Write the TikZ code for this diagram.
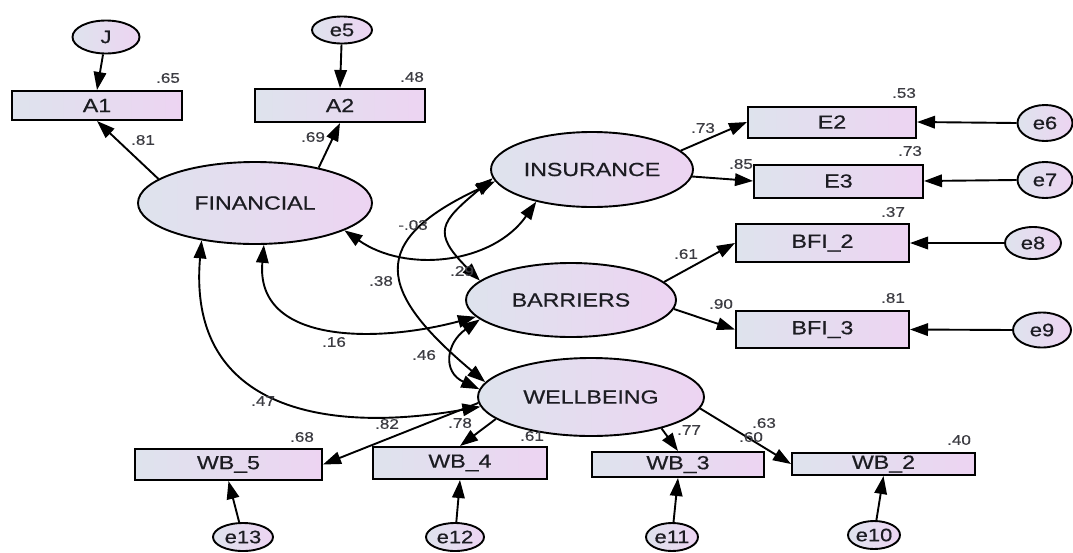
\documentclass[tikz,border=0pt]{standalone}
\usepackage{fontspec}
\setmainfont{Liberation Sans}[FakeStretch=1.22,FakeBold=0.5]
\usetikzlibrary{arrows.meta,shapes.geometric}
\definecolor{fillL}{RGB}{222,227,237}
\definecolor{fillR}{RGB}{237,212,242}
\definecolor{inkT}{RGB}{28,28,34}
\definecolor{inkN}{RGB}{60,60,66}

\begin{document}
\begin{tikzpicture}[x=1pt,y=-1pt,
  latent/.style={ellipse, draw, line width=1.9pt, left color=fillL, right color=fillR,
    inner sep=0pt, text=inkT, font=\fontsize{19}{21}\selectfont},
  obs/.style={rectangle, draw, line width=2pt, left color=fillL, right color=fillR,
    inner sep=0pt, text=inkT, font=\fontsize{19}{21}\selectfont},
  err/.style={ellipse, draw, line width=1.9pt, left color=fillL, right color=fillR,
    inner sep=0pt, text=inkT, font=\fontsize{18}{20}\selectfont},
  num/.style={inner sep=0pt, text=inkN, font=\fontsize{14}{16}\selectfont},
  tip/.tip={Triangle[length=18pt,width=12.5pt]},
  arr/.style={-tip, line width=1.9pt},
  cov/.style={tip-tip, line width=1.9pt}]

\useasboundingbox (0,0) rectangle (1073,552);

% latent variables
\node[latent, minimum width=234pt, minimum height=82pt] (FIN) at (255,203) {FINANCIAL};
\node[latent, minimum width=202pt, minimum height=75pt] (INS) at (592,169.5) {INSURANCE};
\node[latent, minimum width=210pt, minimum height=74pt] (BAR) at (571,300) {BARRIERS};
\node[latent, minimum width=226pt, minimum height=78pt] (WB) at (591,397) {WELLBEING};

% indicators
\node[obs, minimum width=170pt, minimum height=29pt] (A1) at (97,105.5) {A1};
\node[obs, minimum width=170pt, minimum height=33pt] (A2) at (340,105.5) {A2};
\node[obs, minimum width=168pt, minimum height=31pt] (E2) at (832,122) {E2};
\node[obs, minimum width=169pt, minimum height=33pt] (E3) at (838.5,181) {E3};
\node[obs, minimum width=173pt, minimum height=38pt] (BFI2) at (822.5,243) {BFI\_2};
\node[obs, minimum width=173pt, minimum height=37pt] (BFI3) at (822.5,329.5) {BFI\_3};
\node[obs, minimum width=187pt, minimum height=31pt] (WB5) at (228.5,464.5) {WB\_5};
\node[obs, minimum width=174pt, minimum height=32pt] (WB4) at (460,463) {WB\_4};
\node[obs, minimum width=172pt, minimum height=25pt] (WB3) at (678,464.5) {WB\_3};
\node[obs, minimum width=183pt, minimum height=22pt] (WB2) at (883.5,464) {WB\_2};

% error terms
\node[err, minimum width=67pt, minimum height=33pt] (J) at (106,37) {J};
\node[err, minimum width=60pt, minimum height=27pt] (e5) at (342,30) {e5};
\node[err, minimum width=55pt, minimum height=36pt] (e6) at (1045,123) {e6};
\node[err, minimum width=55pt, minimum height=36pt] (e7) at (1045,180) {e7};
\node[err, minimum width=56pt, minimum height=32pt] (e8) at (1033,243) {e8};
\node[err, minimum width=58pt, minimum height=35pt] (e9) at (1042,330) {e9};
\node[err, minimum width=60pt, minimum height=28pt] (e13) at (243,537) {e13};
\node[err, minimum width=58pt, minimum height=28pt] (e12) at (455,537) {e12};
\node[err, minimum width=52pt, minimum height=28pt] (e11) at (672,537) {e11};
\node[err, minimum width=52pt, minimum height=28pt] (e10) at (874,535) {e10};

% error paths
\draw[arr] (J) -- (A1.north);
\draw[arr] (e5) -- (A2.north);
\draw[arr] (e6.west) -- (E2.east);
\draw[arr] (e7.west) -- (E3.east);
\draw[arr] (e8.west) -- (BFI2.east);
\draw[arr] (e9.west) -- (BFI3.east);
\draw[arr] (e13) -- (WB5.south);
\draw[arr] (e12) -- (WB4.south);
\draw[arr] (e11) -- (WB3.south);
\draw[arr] (e10) -- (WB2.south);

% loadings
\draw[arr] (FIN.166) -- (A1.south);
\draw[arr] (FIN.29) -- (A2.south);
\draw[arr] (INS.12) -- (E2.west);
\draw[arr] (INS.-4) -- (E3.west);
\draw[arr] (BAR.11) -- (BFI2.west);
\draw[arr] (BAR.-5) -- (BFI3.west);
\draw[arr] (WB.183) -- (WB5.east);
\draw[arr] (WB.193) -- (WB4.north);
\draw[arr] (WB.-24) -- (WB3.north);
\draw[arr] (WB.-6) -- (WB2.west);

% covariances
\draw[cov] (FIN.-17) to[out=-35,in=-125] (INS.-150);
\draw[cov] (FIN.-78) to[out=-95,in=195,looseness=1.15] (BAR.190);
\draw[cov] (FIN.-145) to[out=-95,in=190,looseness=1.3] (WB.185);
\draw[cov] (INS.185) to[out=220,in=135,looseness=1.7] (BAR.168);
\draw[cov] (INS.187) to[out=205,in=140,looseness=1.8] (WB.172);
\draw[cov] (BAR.192) to[out=215,in=155,looseness=1.5] (WB.176);

% squared multiple correlations
\node[num] (r1) at (168,78) {.65};
\node[num] (r2) at (412,77) {.48};
\node[num] (r3) at (904,93) {.53};
\node[num] (r4) at (910,151) {.73};
\node[num] (r5) at (893,212) {.37};
\node[num] (r6) at (893,298) {.81};
\node[num] (r7) at (302,437) {.68};
\node[num] (r8) at (532,436) {.61};
\node[num] (r9) at (751,437) {.60};
\node[num] (r10) at (959,440) {.40};

% standardized loadings
\node[num] (p1) at (143,140) {.81};
\node[num] (p2) at (313,137) {.69};
\node[num] (p3) at (703,128) {.73};
\node[num] (p4) at (741,164) {.85};
\node[num] (p5) at (686,254) {.61};
\node[num] (p6) at (721,304) {.90};
\node[num] (p7) at (387,424) {.82};
\node[num] (p8) at (460,423) {.78};
\node[num] (p9) at (689,430) {.77};
\node[num] (p10) at (764,423) {.63};

% correlations
\node[num] (c1) at (413,225) {-.03};
\node[num] (c2) at (462,271) {.29};
\node[num] (c3) at (381,281) {.38};
\node[num] (c4) at (334,342) {.16};
\node[num] (c5) at (424,355) {.46};
\node[num] (c6) at (263,401) {.47};
\end{tikzpicture}
\end{document}
